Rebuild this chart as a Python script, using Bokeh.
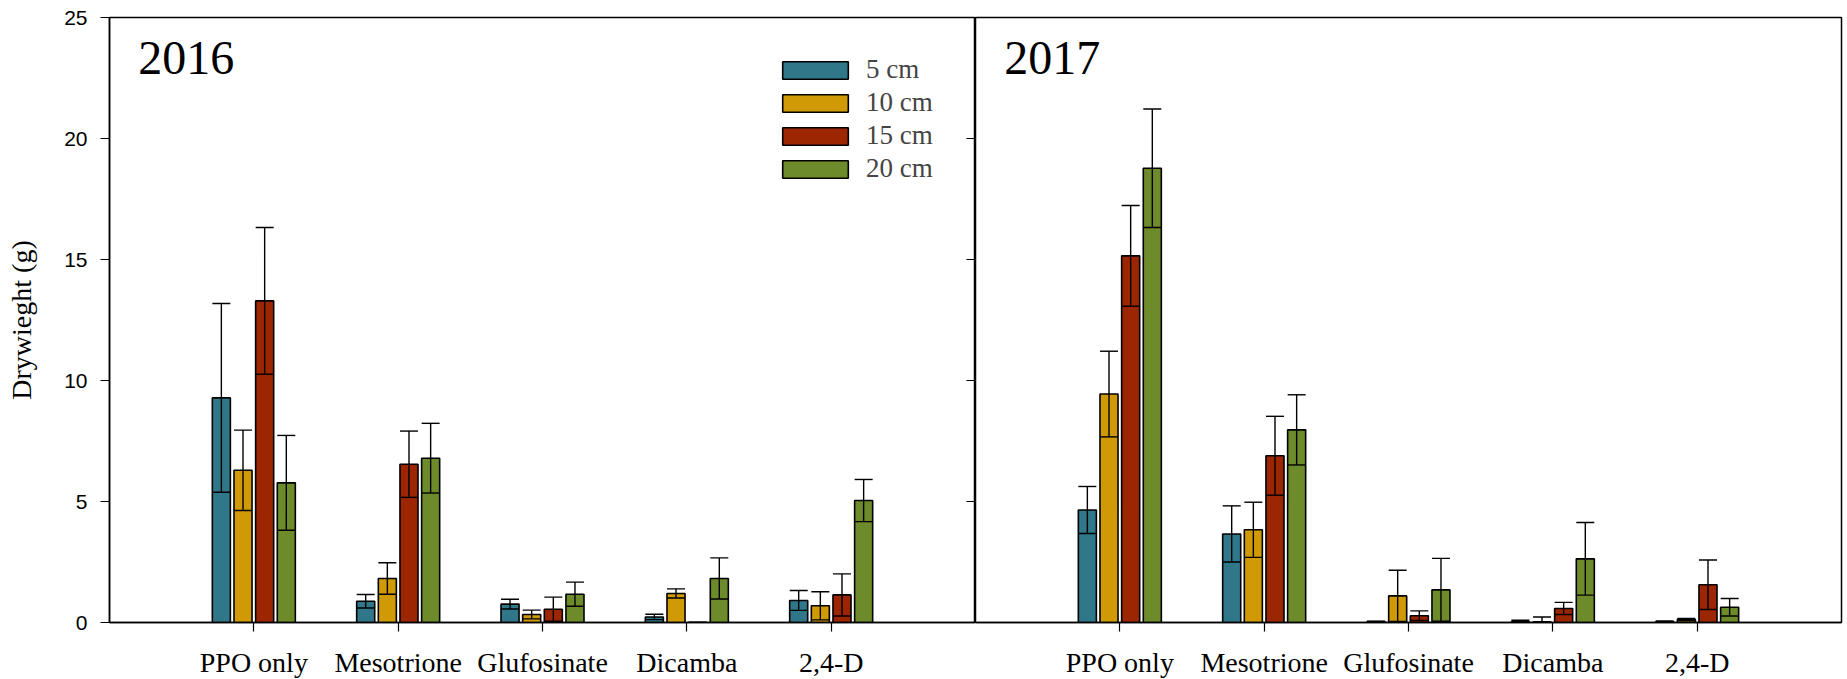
import numpy as np
from bokeh.plotting import figure
from bokeh.models import (Range1d, FixedTicker, SingleIntervalTicker, LinearAxis, Whisker,
                          TeeHead, ColumnDataSource, Legend, LegendItem, Label)
from bokeh.layouts import row
from bokeh.embed import file_html
from bokeh.resources import INLINE

# ---------------- data ----------------
categories = ["PPO only", "Mesotrione", "Glufosinate", "Dicamba", "2,4-D"]
sizes = ["5 cm", "10 cm", "15 cm", "20 cm"]
years = ["2016", "2017"]

mean_2016_5 = [9.28, 0.88, 0.76, 0.23, 0.91]
mean_2016_10 = [6.29, 1.82, 0.33, 1.20, 0.69]
mean_2016_15 = [13.29, 6.54, 0.55, 0.0, 1.14]
mean_2016_20 = [5.77, 6.79, 1.17, 1.82, 5.04]
err_2016_5 = [3.90, 0.28, 0.20, 0.11, 0.41]
err_2016_10 = [1.66, 0.65, 0.18, 0.19, 0.58]
err_2016_15 = [3.03, 1.37, 0.50, 0.0, 0.87]
err_2016_20 = [1.96, 1.44, 0.50, 0.85, 0.87]

mean_2017_5 = [4.65, 3.66, 0.04, 0.03, 0.03]
mean_2017_10 = [9.44, 3.83, 1.10, 0.03, 0.12]
mean_2017_15 = [15.15, 6.89, 0.28, 0.58, 1.56]
mean_2017_20 = [18.77, 7.96, 1.35, 2.63, 0.63]
err_2017_5 = [0.97, 1.16, 0.0, 0.06, 0.03]
err_2017_10 = [1.77, 1.14, 1.06, 0.20, 0.05]
err_2017_15 = [2.08, 1.63, 0.20, 0.25, 1.02]
err_2017_20 = [2.45, 1.45, 1.30, 1.50, 0.36]

means = {"2016": [mean_2016_5, mean_2016_10, mean_2016_15, mean_2016_20],
         "2017": [mean_2017_5, mean_2017_10, mean_2017_15, mean_2017_20]}
errs = {"2016": [err_2016_5, err_2016_10, err_2016_15, err_2016_20],
        "2017": [err_2017_5, err_2017_10, err_2017_15, err_2017_20]}

# ---------------- style ----------------
colors = ["#30778A", "#D09A07", "#9C2601", "#6E8B2B"]
offsets = [-0.225, -0.075, 0.075, 0.225]
bar_w = 0.125
serif = "Liberation Serif"
sans = "Liberation Sans"

xi = np.arange(1, len(categories) + 1)
y_range = Range1d(0, 25)


def style_common(p):
    p.xgrid.visible = False
    p.ygrid.visible = False
    p.outline_line_color = "black"
    p.outline_line_width = 1.5
    p.background_fill_color = "white"
    p.border_fill_color = "white"
    xa = p.xaxis[0]
    xa.ticker = FixedTicker(ticks=list(xi))
    xa.major_label_overrides = {int(i): c for i, c in zip(xi, categories)}
    xa.major_tick_out = 9
    xa.major_tick_in = 0
    xa.minor_tick_out = 0
    xa.minor_tick_in = 0
    xa.axis_line_width = 1.5
    xa.axis_line_color = "black"
    xa.major_tick_line_width = 1.2
    xa.major_label_text_font = serif
    xa.major_label_text_font_size = "28px"
    xa.major_label_text_color = "black"
    xa.major_label_standoff = 15


def make_panel(year, first):
    if first:
        p = figure(frame_width=866, frame_height=605, x_range=Range1d(0, len(categories) + 1),
                   y_range=y_range, output_backend="svg", toolbar_location=None,
                   min_border_left=109, min_border_top=17, min_border_right=0, min_border_bottom=0)
    else:
        p = figure(frame_width=866, frame_height=605, x_range=Range1d(0, len(categories) + 1),
                   y_range=y_range, output_backend="svg", toolbar_location=None,
                   y_axis_location=None,
                   min_border_left=0, min_border_top=17, min_border_right=4, min_border_bottom=0)
    style_common(p)
    renderers = []
    for k, s in enumerate(sizes):
        m = np.array(means[year][k])
        e = np.array(errs[year][k])
        src = ColumnDataSource(dict(x=xi + offsets[k], top=m, upper=m + e, lower=m - e))
        r = p.vbar(x="x", top="top", width=bar_w, source=src, fill_color=colors[k],
                   line_color="black", line_width=1.6)
        renderers.append(r)
        w = Whisker(source=src, base="x", upper="upper", lower="lower", dimension="height",
                    line_color="black", line_width=1.4,
                    upper_head=TeeHead(size=18, line_color="black", line_width=1.4),
                    lower_head=TeeHead(size=18, line_color="black", line_width=1.4),
                    level="overlay")
        p.add_layout(w)
    p.add_layout(Label(x=0.2, y=23.32, text=year, text_font=serif, text_font_size="48px",
                       text_color="black", text_baseline="alphabetic"))
    return p, renderers


p1, rs = make_panel("2016", True)
p2, _ = make_panel("2017", False)

ya = p1.yaxis[0]
ya.ticker = SingleIntervalTicker(interval=5)
ya.major_tick_out = 9
ya.major_tick_in = 0
ya.minor_tick_out = 0
ya.minor_tick_in = 0
ya.axis_line_width = 1.5
ya.major_tick_line_width = 1.2
ya.major_label_text_font = sans
ya.major_label_text_font_size = "21px"
ya.major_label_text_color = "black"
ya.major_label_standoff = 13
ya.axis_label = "Drywieght (g)"
ya.axis_label_text_font = serif
ya.axis_label_text_font_size = "28px"
ya.axis_label_text_font_style = "normal"
ya.axis_label_text_color = "black"
ya.axis_label_standoff = 24

ra = LinearAxis(ticker=SingleIntervalTicker(interval=5), major_tick_in=9, major_tick_out=0,
                minor_tick_in=0, minor_tick_out=0, major_label_text_font_size="0px",
                major_label_standoff=0, axis_line_width=1.5, major_tick_line_width=1.2)
p1.add_layout(ra, "right")

legend = Legend(items=[LegendItem(label=s, renderers=[r]) for s, r in zip(sizes, rs)],
                location=(665, 438), glyph_width=82, glyph_height=22, label_height=22,
                spacing=2, padding=0, margin=0, label_standoff=10,
                label_text_font=serif, label_text_font_size="27px",
                border_line_alpha=0, background_fill_alpha=0)
p1.add_layout(legend)

layout = row(p1, p2)
open("out.html", "w").write(file_html(layout, INLINE))
